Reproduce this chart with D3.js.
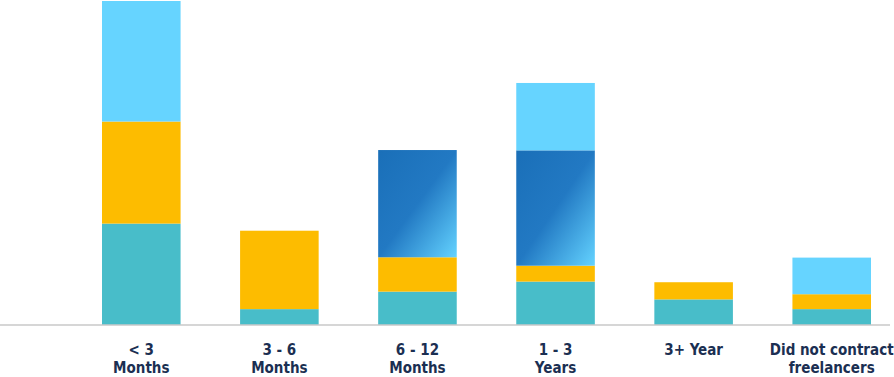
<!DOCTYPE html>
<html>
<head>
<meta charset="utf-8">
<script src="https://cdn.jsdelivr.net/npm/d3@7"></script>
<style>
  html, body { margin: 0; padding: 0; background: #fff; }
  svg { display: block; }
</style>
</head>
<body>
<svg id="chart" width="894" height="377"></svg>
<script>
// ---- data ----
const categories = ["< 3|Months", "3 - 6|Months", "6 - 12|Months", "1 - 3|Years", "3+ Year", "Did not contract|freelancers"];
const seriesNames = ["teal", "yellow", "blueGradient", "lightBlue"];
const tealValues      = [31.3, 4.9, 10.3, 13.4, 7.9, 4.9];
const yellowValues    = [31.5, 24.2, 10.6, 4.9, 5.3, 4.6];
const gradientValues  = [0, 0, 33.1, 35.6, 0, 0];
const lightBlueValues = [37.2, 0, 0, 20.8, 0, 11.3];
const yMax = 100;

// ---- build table ----
const table = categories.map((c, i) => ({
  cat: c,
  teal: tealValues[i],
  yellow: yellowValues[i],
  blueGradient: gradientValues[i],
  lightBlue: lightBlueValues[i]
}));

const svg = d3.select("#chart");
const defs = svg.append("defs");
const grad = defs.append("linearGradient")
  .attr("id", "blueGrad")
  .attr("x1", "0").attr("y1", "0").attr("x2", "1").attr("y2", "1");
grad.append("stop").attr("offset", "0").attr("stop-color", "#1a6fb8");
grad.append("stop").attr("offset", "0.5").attr("stop-color", "#2279c3");
grad.append("stop").attr("offset", "1").attr("stop-color", "#64d3ff");

const colors = {
  teal: "#48bdc9",
  yellow: "#fdbc00",
  blueGradient: "url(#blueGrad)",
  lightBlue: "#66d4ff"
};

const x = d3.scaleBand()
  .domain(categories)
  .range([102, 871])
  .paddingInner(0.431)
  .paddingOuter(0);

const y = d3.scaleLinear().domain([0, yMax]).range([325, 1]);

const stack = d3.stack().keys(seriesNames);
const stacked = stack(table);

svg.append("g").selectAll("g")
  .data(stacked)
  .join("g")
  .attr("fill", d => colors[d.key])
  .selectAll("rect")
  .data(d => d.filter(s => s[1] - s[0] > 0))
  .join("rect")
  .attr("x", d => x(d.data.cat))
  .attr("width", x.bandwidth())
  .attr("y", d => y(d[1]))
  .attr("height", d => y(d[0]) - y(d[1]));

// baseline
svg.append("line")
  .attr("x1", 0).attr("x2", 890)
  .attr("y1", y(0)).attr("y2", y(0))
  .attr("stroke", "#c8c8c8")
  .attr("stroke-width", 1.5);

// labels
const labels = svg.append("g")
  .attr("font-family", "'DejaVu Sans Condensed', 'DejaVu Sans', sans-serif")
  .attr("font-weight", "bold")
  .attr("font-size", 15)
  .attr("fill", "#1b2f52")
  .attr("text-anchor", "middle");

categories.forEach(c => {
  const t = labels.append("text")
    .attr("x", x(c) + x.bandwidth() / 2)
    .attr("y", 355);
  c.split("|").forEach((line, j) => {
    t.append("tspan")
      .attr("x", x(c) + x.bandwidth() / 2)
      .attr("dy", j === 0 ? 0 : 18)
      .text(line);
  });
});
</script>
</body>
</html>
